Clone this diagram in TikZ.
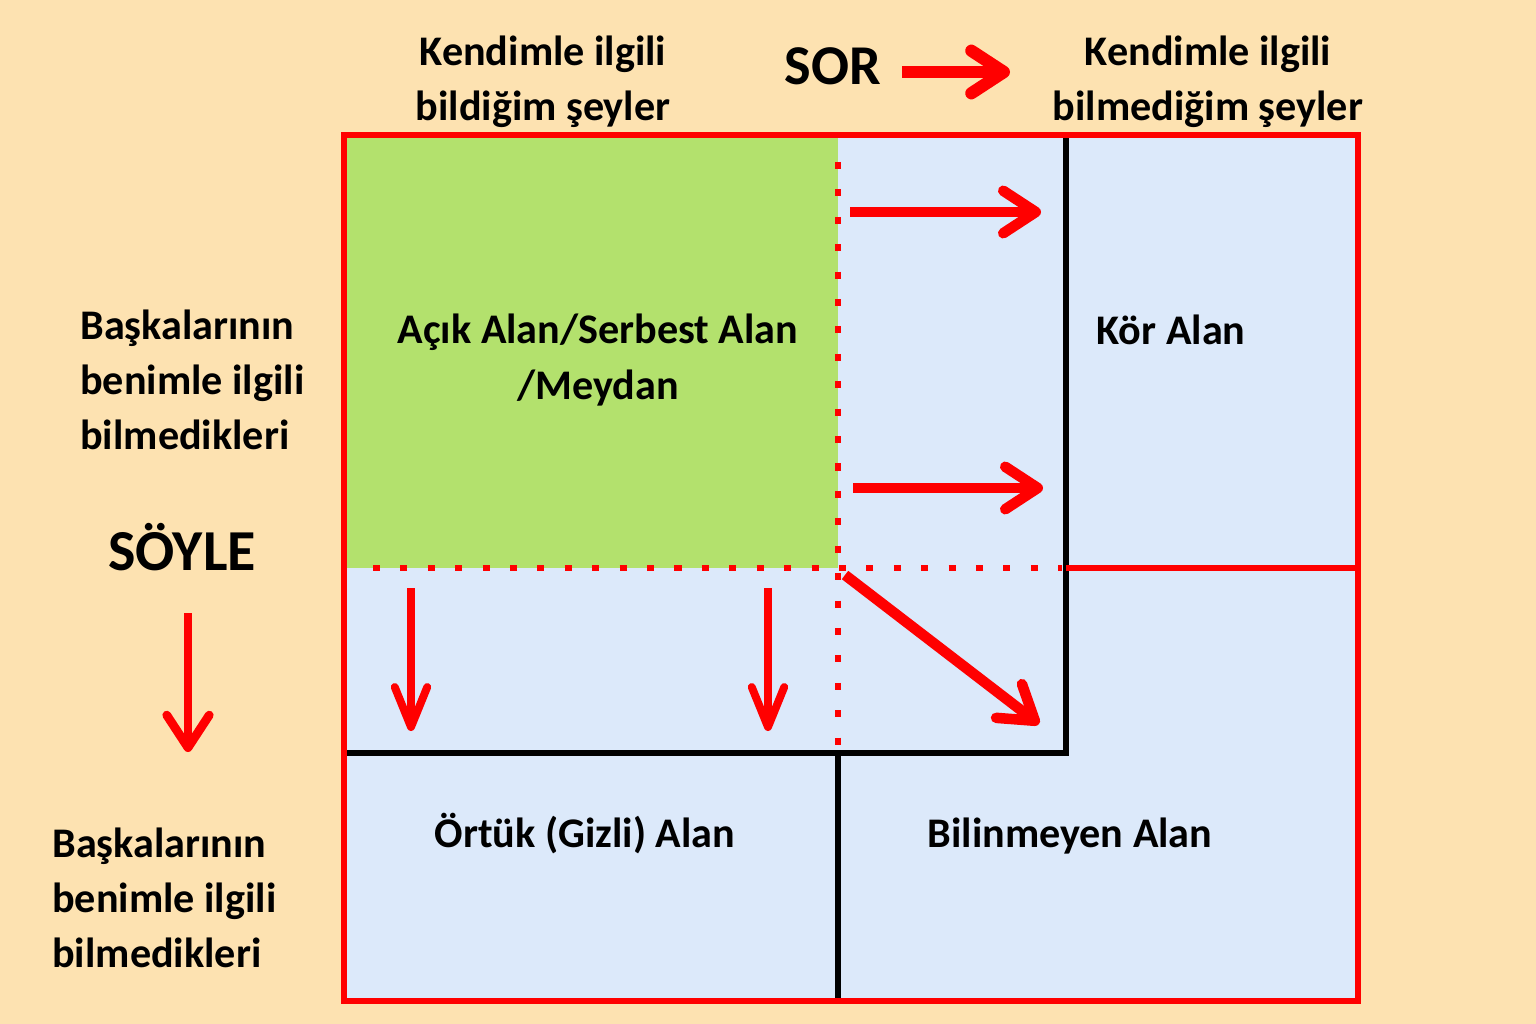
\documentclass[tikz,border=0pt]{standalone}
\usepackage{fontspec}
\setmainfont{Carlito}
\usetikzlibrary{arrows.meta}
\definecolor{peach}{HTML}{FDE2B1}
\definecolor{opengreen}{HTML}{B3E16D}
\definecolor{paneblue}{HTML}{DCE9FA}
\definecolor{jred}{HTML}{FF0000}
\tikzset{
  txt/.style={font=\fontsize{24}{31.5}\selectfont\bfseries, inner sep=0pt, align=center},
  bigtxt/.style={font=\fontsize{33}{38}\selectfont\bfseries, inner sep=0pt},
  redarr/.style={draw=jred, line width=6pt, -{Straight Barb[length=6.5mm, width=8.5mm, round]}},
  downarr/.style={draw=jred, line width=4.5pt, -{Straight Barb[length=8mm, width=6.5mm, round]}},
  dots/.style={draw=jred, line width=3.8pt, dash pattern=on 4pt off 11.6pt},
  divider/.style={draw=black, line width=3.4pt},
}
\begin{document}
\begin{tikzpicture}[x=0.02cm, y=-0.02cm]
  \fill[peach] (0,0) rectangle (1536,1024);
  \useasboundingbox (0,0) rectangle (1536,1024);

  \fill[paneblue] (344,135) rectangle (1358,1001);
  \fill[opengreen] (344,135) rectangle (838,568);

  \draw[dots] (838,162) -- (838,753);
  \draw[dots] (373,568) -- (1062,568);
  \draw[divider] (1066,135) -- (1066,753) -- (344,753);
  \draw[divider] (838,753) -- (838,1001);
  \draw[draw=jred, line width=3.4pt] (1066,568) -- (1358,568);
  \draw[draw=jred, line width=3.6pt] (344,135) rectangle (1358,1001);

  \node[txt] (known) at (543,82) {Kendimle ilgili\\bildiğim şeyler};
  \node[txt] (unknown) at (1208,82) {Kendimle ilgili\\bilmediğim şeyler};
  \node[bigtxt, font=\fontsize{32}{38}\selectfont\bfseries, anchor=base] (sor) at (833,85) {SOR};
  \node[txt, anchor=west, align=left] (othersA) at (80,380) {Başkalarının\\benimle ilgili\\bilmedikleri};
  \node[bigtxt, anchor=base] (soyle) at (182,570) {SÖYLE};
  \node[txt, anchor=west, align=left] (othersB) at (52,898) {Başkalarının\\benimle ilgili\\bilmedikleri};

  \node[txt] (open) at (598,360) {Açık Alan/Serbest Alan\\/Meydan};
  \node[txt, anchor=base] (blind) at (1171,344) {Kör Alan};
  \node[txt, anchor=base] (hidden) at (585,847) {Örtük (Gizli) Alan};
  \node[txt, anchor=base] (unknownarea) at (1070,847) {Bilinmeyen Alan};

  \coordinate (sorA) at (902,72);
  \coordinate (sorB) at (1010,72);
  \coordinate (soyleA) at (188,613);
  \coordinate (soyleB) at (188,752);
  \coordinate (rightA1) at (850,212);
  \coordinate (rightB1) at (1041,212);
  \coordinate (rightA2) at (853,488);
  \coordinate (rightB2) at (1043,488);
  \coordinate (downA1) at (411,588);
  \coordinate (downB1) at (411,731);
  \coordinate (downA2) at (768,588);
  \coordinate (downB2) at (768,731);
  \coordinate (diagA) at (845,575);
  \coordinate (diagB) at (1039,724);

  \draw[redarr, line width=7pt] (sorA) -- (sorB);
  \draw[redarr, line width=5pt] (soyleA) -- (soyleB);
  \draw[redarr] (rightA1) -- (rightB1);
  \draw[redarr] (rightA2) -- (rightB2);
  \draw[downarr] (downA1) -- (downB1);
  \draw[downarr] (downA2) -- (downB2);
  \draw[redarr] (diagA) -- (diagB);
\end{tikzpicture}
\end{document}
